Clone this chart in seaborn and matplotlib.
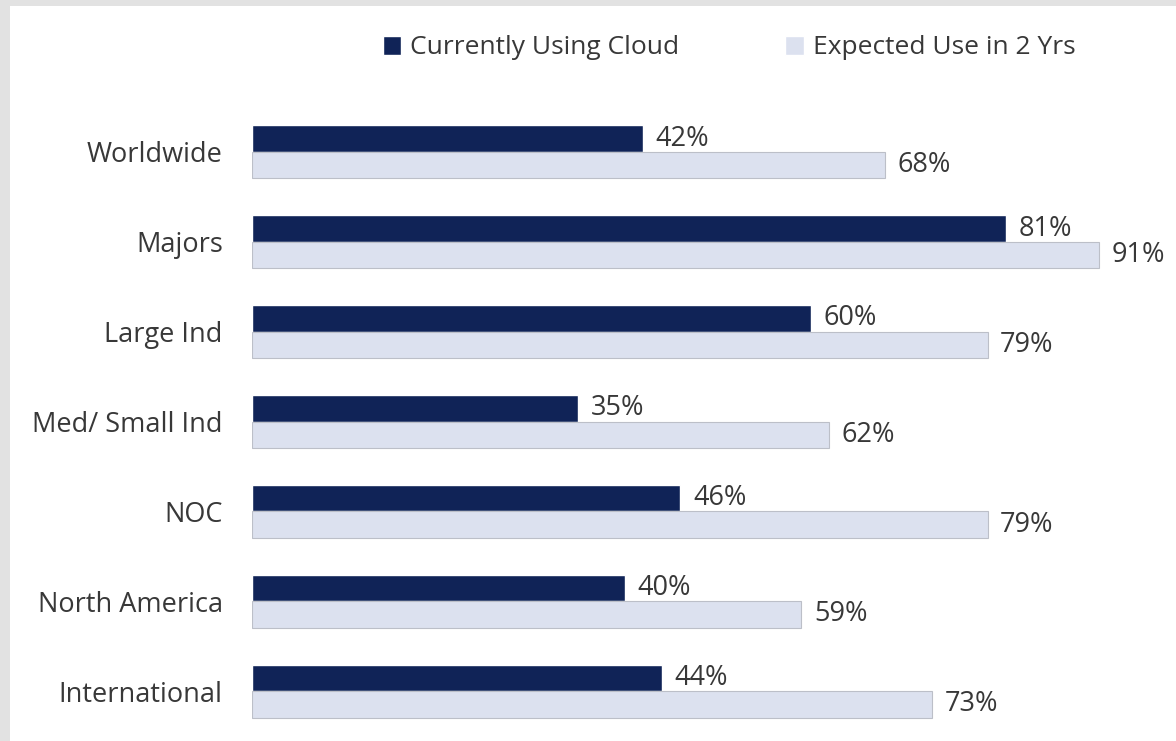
import matplotlib
matplotlib.use("Agg")
import matplotlib.pyplot as plt
from matplotlib.patches import Rectangle
import seaborn as sns
import pandas as pd

# Cloud adoption by company segment (percent of respondents)
segments = ["Worldwide", "Majors", "Large Ind", "Med/ Small Ind", "NOC",
            "North America", "International"]
current_use = [42, 81, 60, 35, 46, 40, 44]
expected_use = [68, 91, 79, 62, 79, 59, 73]
series_names = ["Currently Using Cloud", "Expected Use in 2 Yrs"]

navy = "#041d63"
pale = "#d9e0f2"
text_color = "#383838"

df = pd.DataFrame({
    "segment": segments * 2,
    "value": current_use + expected_use,
    "series": [series_names[0]] * len(segments) + [series_names[1]] * len(segments),
})

sns.set_theme(style="white")
plt.rcParams["font.family"] = ["Open Sans", "DejaVu Sans"]

W, H = 1176, 741
fig = plt.figure(figsize=(W / 100, H / 100), dpi=100)
fig.patch.set_facecolor("white")

# light grey frame along the top and left edges
fig.patches.append(Rectangle((0, 1 - 6 / H), 1, 6 / H, transform=fig.transFigure,
                             facecolor="#e2e2e2", edgecolor="none", zorder=0))
fig.patches.append(Rectangle((0, 0), 10 / W, 1, transform=fig.transFigure,
                             facecolor="#e2e2e2", edgecolor="none", zorder=0))

ax = fig.add_axes([252 / W, 5 / H, (1160 - 252) / W, 629 / H])
sns.barplot(data=df, x="value", y="segment", hue="series", order=segments,
            hue_order=series_names, palette=[navy, pale], orient="h",
            width=0.59, ax=ax, legend=True)

# thin grey outline on the pale bars
for bar in ax.containers[1]:
    bar.set_edgecolor("#bcbfc8")
    bar.set_linewidth(0.8)

ax.set_xlim(0, 97.5)
ax.set_ylim(6.5, -0.5)
ax.set_xlabel("")
ax.set_ylabel("")
ax.set_xticks([])
for s in ax.spines.values():
    s.set_visible(False)
ax.tick_params(axis="y", length=0, pad=21, labelsize=19.5, labelcolor=text_color)

for cont in ax.containers:
    ax.bar_label(cont, labels=[f"{v:.0f}%" for v in cont.datavalues], padding=9,
                 fontsize=19.5, color=text_color)

handles, labels = ax.get_legend_handles_labels()
ax.get_legend().remove()
fig.legend(handles, labels, loc="center", bbox_to_anchor=(729 / W, 1 - 48 / H),
           ncol=2, frameon=False, fontsize=19, handlelength=0.7, handleheight=0.7,
           handletextpad=0.35, columnspacing=4.0, labelcolor=text_color)

fig.savefig("out.png", dpi=100)
